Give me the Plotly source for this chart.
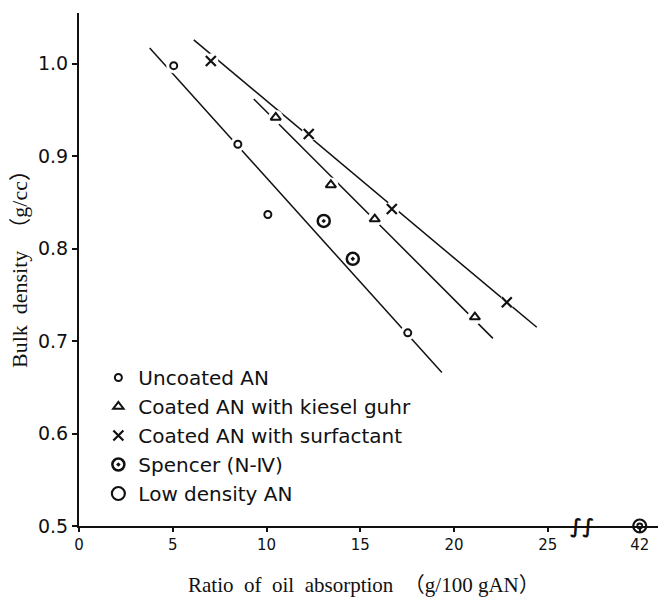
import plotly.graph_objects as go

# ---- data ----
unc_x = [5.05, 8.47, 10.07, 17.53]
unc_y = [0.998, 0.913, 0.837, 0.709]
kg_x = [10.49, 13.43, 15.77, 21.11]
kg_y = [0.942, 0.869, 0.832, 0.726]
sf_x = [7.03, 12.25, 16.68, 22.81]
sf_y = [1.003, 0.924, 0.843, 0.742]
sp_x = [13.05, 14.6]
sp_y = [0.830, 0.789]
ld_x = [29.9]          # plotted position of the broken-axis value 42
ld_y = [0.5]

# fitted lines (extents as drawn)
unc_line_x = [3.77, 19.35]
unc_line_y = [1.017, 0.666]
kg_line_x = [9.32, 22.07]
kg_line_y = [0.962, 0.703]
sf_line_x = [6.12, 24.41]
sf_line_y = [1.026, 0.715]

x_tickvals = [0, 5, 10, 15, 20, 25, 29.9]
x_ticktext = ["0", "5", "10", "15", "20", "25", "42"]
y_tickvals = [0.5, 0.6, 0.7, 0.8, 0.9, 1.0]
y_ticktext = ["0.5", "0.6", "0.7", "0.8", "0.9", "1.0"]
break_x = 26.8

BLACK = "#111111"
fig = go.Figure()

# lines
for lx, ly in [(unc_line_x, unc_line_y), (kg_line_x, kg_line_y), (sf_line_x, sf_line_y)]:
    fig.add_trace(go.Scatter(x=lx, y=ly, mode="lines", line=dict(color=BLACK, width=1.5),
                             showlegend=False, hoverinfo="skip"))

# white masks producing the gaps around markers
for mx, my in [(unc_x, unc_y), (kg_x, kg_y), (sf_x, sf_y)]:
    fig.add_trace(go.Scatter(x=mx, y=my, mode="markers",
                             marker=dict(symbol="circle", size=15, color="white", line=dict(width=0)),
                             showlegend=False, hoverinfo="skip"))

fig.add_trace(go.Scatter(x=unc_x, y=unc_y, mode="markers", name="Uncoated AN",
                         marker=dict(symbol="circle-open", size=7, color=BLACK, line=dict(width=2, color=BLACK))))
fig.add_trace(go.Scatter(x=kg_x, y=kg_y, mode="markers", name="Coated AN with kiesel guhr",
                         marker=dict(symbol="triangle-up-open", size=9, color=BLACK, line=dict(width=2, color=BLACK))))
fig.add_trace(go.Scatter(x=sf_x, y=sf_y, mode="markers", name="Coated AN with surfactant",
                         marker=dict(symbol="x-thin", size=10, color=BLACK, line=dict(width=2.2, color=BLACK))))
fig.add_trace(go.Scatter(x=sp_x, y=sp_y, mode="markers", name="Spencer (N-Ⅳ)",
                         marker=dict(symbol="circle-open-dot", size=12, color=BLACK, line=dict(width=2.5, color=BLACK))))
fig.add_trace(go.Scatter(x=ld_x, y=ld_y, mode="markers", name="Low density AN", cliponaxis=False,
                         marker=dict(symbol="circle", size=13, color="white", line=dict(width=2.2, color=BLACK))))
fig.add_trace(go.Scatter(x=ld_x, y=ld_y, mode="markers", showlegend=False, cliponaxis=False, hoverinfo="skip",
                         marker=dict(symbol="circle-open", size=5, color=BLACK, line=dict(width=1.8, color=BLACK))))

fig.add_annotation(x=break_x, y=0.5, xref="x", yref="y", text="<b>∫∫</b>", showarrow=False,
                   font=dict(family="DejaVu Sans", size=20, color=BLACK))

# page body has an 8px margin: figure occupies x 8..666, y 8..600
OX, OY = 8, 8
L, T, B = 79 - OX, 13 - OY, 600 - 526
W, H = 666 - OX, 600 - OY
PW, PH = W - L, H - T - B

# axis titles
fig.add_annotation(xref="paper", yref="paper", x=(364 - 79) / PW, y=-(585 - 526) / PH,
                   xanchor="center", yanchor="middle",
                   text="Ratio  of  oil  absorption  （g/100 gAN）", showarrow=False,
                   font=dict(family="Liberation Serif, Noto Sans CJK JP", size=21, color=BLACK))
fig.add_annotation(xref="paper", yref="paper", x=-(79 - 19) / PW, y=(526 - 264) / PH,
                   xanchor="center", yanchor="middle", textangle=-90,
                   text="Bulk  density  （g/cc）", showarrow=False,
                   font=dict(family="Liberation Serif, Noto Sans CJK JP", size=22, color=BLACK))

fig.update_layout(
    width=W, height=H,
    margin=dict(l=L, r=0, t=T, b=B, autoexpand=False),
    paper_bgcolor="white", plot_bgcolor="white",
    showlegend=True,
    legend=dict(x=0.033, y=(526 - 358) / PH, xanchor="left", yanchor="top", bgcolor="rgba(0,0,0,0)",
                font=dict(family="DejaVu Sans", size=20, color=BLACK), itemwidth=30,
                tracegroupgap=0),
    xaxis=dict(range=[0, 31.3], showgrid=False, zeroline=False, showline=True, linecolor=BLACK, linewidth=2,
               automargin=False,
               tickvals=x_tickvals, ticktext=x_ticktext, ticks="outside", ticklen=4, tickwidth=1.5,
               tickcolor=BLACK, tickfont=dict(family="DejaVu Sans", size=15, color=BLACK)),
    yaxis=dict(range=[0.5, 1.055], showgrid=False, zeroline=False, showline=True, linecolor=BLACK, linewidth=2,
               automargin=False,
               tickvals=y_tickvals, ticktext=y_ticktext, ticks="outside", ticklen=5, tickwidth=1.5,
               tickcolor=BLACK, tickfont=dict(family="DejaVu Sans", size=19, color=BLACK)),
)

fig.write_html("out.html")
